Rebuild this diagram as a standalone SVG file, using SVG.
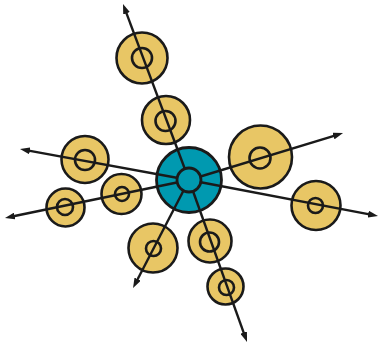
<svg xmlns="http://www.w3.org/2000/svg" width="379" height="344" viewBox="0 0 379 344">
<defs>
<style>
.ring{fill:#E8C665;stroke:#1a1a1a;stroke-width:2.6}
.hole{fill:none;stroke:#1a1a1a;stroke-width:2.6}
.hub{fill:#0099B0;stroke:#1a1a1a;stroke-width:2.8}
.ln{stroke:#1a1a1a;stroke-width:2.4;fill:none;marker-end:url(#ah)}
</style>
<marker id="ah" markerUnits="userSpaceOnUse" viewBox="0 0 10 7" markerWidth="10" markerHeight="7" refX="4" refY="3.5" orient="auto">
<path d="M0,0 L10,3.5 L0,7 z" fill="#1a1a1a"/>
</marker>
</defs>
<rect width="379" height="344" fill="#fff"/>
<g id="n1"><circle class="ring" cx="142" cy="58" r="25.5"/><circle class="hole" cx="142" cy="58" r="10"/></g>
<g id="n2"><circle class="ring" cx="166" cy="120" r="24"/><circle class="hole" cx="165.5" cy="121" r="10"/></g>
<g id="n3"><circle class="ring" cx="85" cy="159.5" r="23.5"/><circle class="hole" cx="85" cy="160" r="10"/></g>
<g id="n4"><circle class="ring" cx="121.5" cy="194" r="20"/><circle class="hole" cx="122" cy="194" r="7"/></g>
<g id="n5"><circle class="ring" cx="65.5" cy="207.5" r="19"/><circle class="hole" cx="65" cy="207" r="8"/></g>
<g id="n6"><circle class="ring" cx="260.5" cy="157" r="31.5"/><circle class="hole" cx="260" cy="158" r="10.5"/></g>
<g id="n7"><circle class="ring" cx="316" cy="205.5" r="24.5"/><circle class="hole" cx="315.5" cy="205.5" r="7.5"/></g>
<g id="n8"><circle class="ring" cx="153" cy="248" r="24.5"/><circle class="hole" cx="153.5" cy="248.5" r="7.5"/></g>
<g id="n9"><circle class="ring" cx="210" cy="241" r="21.5"/><circle class="hole" cx="209.5" cy="242" r="9.5"/></g>
<g id="n10"><circle class="ring" cx="225.5" cy="286.5" r="18"/><circle class="hole" cx="226.5" cy="287.5" r="7.5"/></g>
<g id="hub-outer"><circle class="hub" cx="189" cy="180" r="32.5"/></g>
<g id="connectors">
<line class="ln" x1="189" y1="180" x2="125.1" y2="9.6"/>
<line class="ln" x1="189" y1="180" x2="25.9" y2="150.1"/>
<line class="ln" x1="189" y1="180" x2="10.9" y2="216.8"/>
<line class="ln" x1="189" y1="180" x2="337.3" y2="134.8"/>
<line class="ln" x1="189" y1="180" x2="372.1" y2="214.9"/>
<line class="ln" x1="189" y1="180" x2="135.8" y2="282.7"/>
<line class="ln" x1="189" y1="180" x2="245" y2="336.3"/>
</g>
<g id="hub-inner"><circle class="hub" cx="189" cy="180" r="12"/></g>
</svg>
